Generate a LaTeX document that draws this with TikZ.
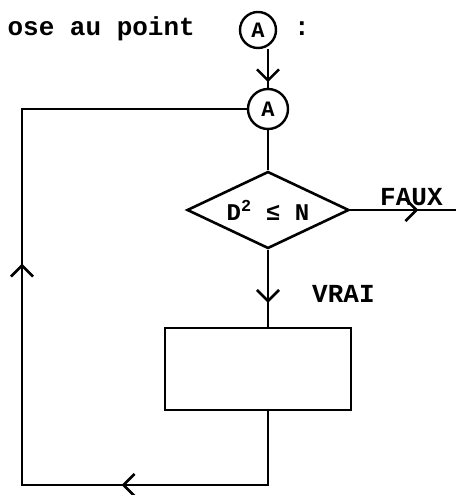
\documentclass[tikz,border=0pt]{standalone}
\usepackage{fontspec}
\setmonofont{Liberation Mono}
\usetikzlibrary{
    arrows.meta,
    shapes.geometric,
    positioning,
    decorations.markings
}
\tikzstyle{flow} = [
    line width=2.6pt,
    draw=black
]
\tikzstyle{connector} = [
    circle,
    draw=black,
    line width=2.4pt,
    inner sep=0pt,
    font=\ttfamily\bfseries\fontsize{22}{22}\selectfont
]
\tikzstyle{decision} = [
    diamond,
    draw=black,
    line width=2.6pt,
    minimum width=162pt,
    minimum height=77pt,
    aspect=2.1,
    inner sep=0pt,
    font=\ttfamily\bfseries\fontsize{24}{24}\selectfont
]
\tikzstyle{process} = [
    rectangle,
    draw=black,
    line width=2.6pt,
    minimum width=186pt,
    minimum height=82pt
]
\tikzstyle{txt} = [
    font=\ttfamily\bfseries\fontsize{26}{26}\selectfont,
    inner sep=0pt
]
\tikzset{
    barbtip/.tip={Straight Barb[length=11pt,width=22pt]},
    barb/.style={postaction={decorate},
        decoration={markings, mark=at position #1 with {\arrow{barbtip}}}}
}

\begin{document}
\begin{tikzpicture}[x=1pt, y=-1pt]
    \useasboundingbox (0,0) rectangle (456,495);

    % Header line
    \node[connector, minimum size=36pt] (Atop) at (258,30) {A};
    \node[txt, anchor=base east] (head) at (195,36) {ose au point};
    \node[txt, anchor=base] (colon) at (302,36) {:};

    % Flowchart
    \node[connector, minimum size=40pt] (A) at (268,109) {A};
    \node[decision] (test) at (268,210) {D\textsuperscript{2} ≤ N};
    \node[process] (body) at (258,369) {};
    \node[txt, anchor=base west] (faux) at (380,205) {FAUX};
    \node[txt, anchor=base west] (vrai) at (312,302) {VRAI};
    \coordinate (out) at (456,210);
    \coordinate (corner) at (22,485);

    % Connections
    \draw[flow, barb=33pt] (Atop.south -| A.north) -- (A.north);
    \draw[flow] (A.south) -- (test.north);
    \draw[flow, barb=68pt] (test.east) -- (out);
    \draw[flow, barb=53pt] (test.south) -- (test.south |- body.north);

    % Loop back to A
    \draw[flow, postaction={decorate},
        decoration={markings,
            mark=at position 220pt with {\arrow{barbtip}},
            mark=at position 541pt with {\arrow{barbtip}}}]
        (test.south |- body.south) -- (test.south |- corner) -- (corner)
        -- (corner |- A.west) -- (A.west);
\end{tikzpicture}
\end{document}
